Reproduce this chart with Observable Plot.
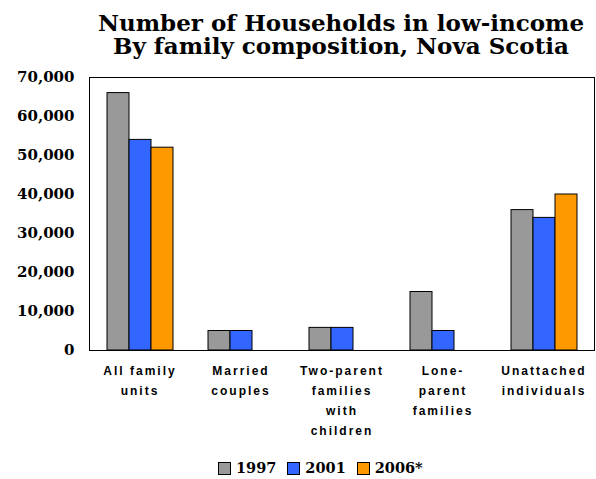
<!DOCTYPE html>
<html>
<head>
<meta charset="utf-8">
<script src="https://cdn.jsdelivr.net/npm/d3@7"></script>
<script src="https://cdn.jsdelivr.net/npm/@observablehq/plot@0.6"></script>
<style>
  body { margin: 0; background: #fff; }
  #wrap { width: 596px; position: relative; }
  #title { box-sizing: border-box; height: 60px; padding: 11px 1px 0 87px; text-align: center;
    font-family: "DejaVu Serif", serif; font-weight: bold; font-size: 23px; line-height: 23px; color: #000; white-space: nowrap; }
  #chart svg { display: block; }
  #chart g[aria-label="fx-axis tick label"] text { letter-spacing: 2px; }
  #legend { box-sizing: border-box; display: flex; justify-content: flex-start; align-items: center; height: 29px; padding: 7px 0 0 218px;
    font-family: "DejaVu Serif", serif; font-weight: bold; font-size: 14.5px; line-height: 1; }
  .item { display: flex; align-items: center; margin-right: 11px; }
  .sw { width: 11px; height: 11px; border: 1px solid #000; margin-right: 5px; }
</style>
</head>
<body>
<div id="wrap">
  <div id="title">Number of Households in low-income<br>By family composition, Nova Scotia</div>
  <div id="chart"></div>
  <div id="legend"></div>
</div>
<script>
const categories = ["All family\nunits", "Married\ncouples", "Two-parent\nfamilies\nwith\nchildren", "Lone-\nparent\nfamilies", "Unattached\nindividuals"];
const years = ["1997", "2001", "2006*"];
const values1997 = [66000, 5000, 5800, 15000, 36000];
const values2001 = [54000, 5000, 5800, 5000, 34000];
const values2006 = [52000, null, null, null, 40000];
const colors = ["#999999", "#3366FF", "#FF9900"];
const yTicks = [0, 10000, 20000, 30000, 40000, 50000, 60000, 70000];

const series = [values1997, values2001, values2006];
const data = [];
categories.forEach((c, i) => {
  years.forEach((y, j) => {
    const v = series[j][i];
    if (v != null) data.push({category: c, year: y, value: v});
  });
});

const chart = Plot.plot({
  width: 596,
  height: 390,
  marginLeft: 87,
  marginRight: 1,
  marginTop: 17,
  marginBottom: 100,
  style: {background: "#fff", color: "#000"},
  fx: {domain: categories, padding: 0, label: null},
  x: {domain: years, paddingInner: 0, paddingOuter: 0.71, axis: null},
  y: {domain: [0, 70000], label: null},
  color: {domain: years, range: colors},
  marks: [
    Plot.barY(data, {fx: "category", x: "year", y: "value", fill: "year", stroke: "#000", strokeWidth: 1}),
    Plot.frame({facet: "super", stroke: "#000", strokeWidth: 1}),
    Plot.axisY({ticks: yTicks, tickFormat: d3.format(","), tickSize: 7, tickPadding: 8, label: null,
      fontFamily: "DejaVu Serif", fontWeight: "bold", fontSize: 15, stroke: null}),
    Plot.axisFx({anchor: "bottom", tickSize: 0, tickPadding: 10, lineHeight: 1.67, label: null,
      fontFamily: "Liberation Sans", fontWeight: "bold", fontSize: 12})
  ]
});
document.getElementById("chart").appendChild(chart);

const legend = d3.select("#legend");
years.forEach((y, j) => {
  const it = legend.append("div").attr("class", "item");
  it.append("div").attr("class", "sw").style("background", colors[j]);
  it.append("span").text(y);
});
</script>
</body>
</html>
